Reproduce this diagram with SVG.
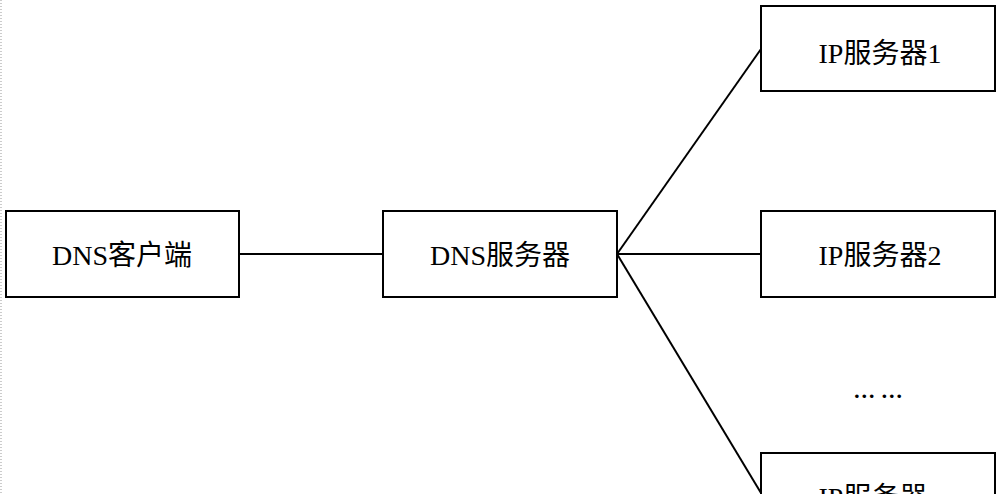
<svg xmlns="http://www.w3.org/2000/svg" width="1000" height="494" viewBox="0 0 1000 494">
<style>
.box{fill:#fff;stroke:#000;stroke-width:2}
.lbl{font-family:"Liberation Serif","Noto Sans CJK SC",serif;font-size:28px;fill:#000;text-anchor:middle}
.con{stroke:#000;stroke-width:2;fill:none}
</style>
<rect width="1000" height="494" fill="#fff"/>
<line x1="1" y1="0" x2="1" y2="494" stroke="#999" stroke-width="1" stroke-dasharray="1,2"/>
<g id="connectors">
<line class="con" x1="239" y1="254" x2="383" y2="254"/>
<line class="con" x1="617" y1="254" x2="761" y2="49"/>
<line class="con" x1="617" y1="254" x2="761" y2="254"/>
<line class="con" x1="617" y1="254" x2="761" y2="493"/>
</g>
<g id="dns-client">
<rect class="box" x="6" y="211" width="233" height="86"/>
<text class="lbl" x="122" y="265">DNS客户端</text>
</g>
<g id="dns-server">
<rect class="box" x="383" y="211" width="234" height="86"/>
<text class="lbl" x="500" y="265">DNS服务器</text>
</g>
<g id="ip-server-1">
<rect class="box" x="761" y="6" width="234" height="85"/>
<text class="lbl" x="880" y="63">IP服务器1</text>
</g>
<g id="ip-server-2">
<rect class="box" x="761" y="211" width="234" height="86"/>
<text class="lbl" x="880" y="265">IP服务器2</text>
</g>
<g id="ellipsis">
<text x="878" y="398" font-family="Liberation Serif,serif" font-size="22" font-weight="bold" text-anchor="middle">… …</text>
</g>
<g id="ip-server-n">
<rect class="box" x="761" y="453" width="234" height="86"/>
<text class="lbl" x="880" y="507">IP服务器n</text>
</g>
</svg>
